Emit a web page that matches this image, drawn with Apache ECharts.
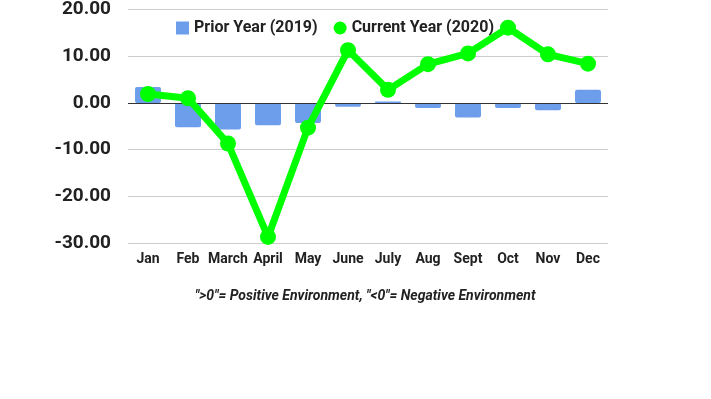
<!DOCTYPE html>
<html>
<head>
<meta charset="utf-8">
<script src="https://cdn.jsdelivr.net/npm/echarts@6/dist/echarts.min.js"></script>
<style>
  html, body { margin: 0; padding: 0; background: #fff; }
  #chart { width: 711px; height: 399px; }
</style>
</head>
<body>
<div id="chart"></div>
<script>
// months along the x axis
const months = ['Jan', 'Feb', 'March', 'April', 'May', 'June', 'July', 'Aug', 'Sept', 'Oct', 'Nov', 'Dec']
const priorYear = [3.4, -5.2, -5.7, -4.8, -4.3, -0.8, 0.3, -1.1, -3.1, -1.1, -1.6, 2.8]
const currentYear = [1.9, 1.0, -8.7, -28.7, -5.3, 11.3, 2.8, 8.3, 10.6, 16.1, 10.4, 8.4]
const yTicks = { min: -30, max: 20, step: 10 }
const note = '">0"= Positive Environment, "<0"= Negative Environment'

const font = 'Roboto'
const ink = '#222'

let chart = echarts.init(document.getElementById('chart'))
chart.setOption({
  animation: false,
  textStyle: { fontFamily: font },
  grid: { left: 128, right: 103, top: 8, bottom: 156 },
  legend: {
    top: 15,
    left: 171,
    itemWidth: 13,
    itemHeight: 13,
    itemGap: 16,
    textStyle: { fontFamily: font, fontSize: 16, fontWeight: 'bold', color: ink },
    data: [
      { name: 'Prior Year (2019)', icon: 'rect' },
      { name: 'Current Year (2020)', icon: 'circle' },
    ],
  },
  xAxis: {
    type: 'category',
    data: months,
    axisLine: { show: false, onZero: false },
    axisTick: { show: false },
    axisLabel: { interval: 0, fontFamily: font, fontSize: 14, fontWeight: 'bold', color: ink, margin: 9 },
  },
  yAxis: {
    type: 'value',
    min: yTicks.min,
    max: yTicks.max,
    interval: yTicks.step,
    axisLine: { show: false },
    axisTick: { show: false },
    axisLabel: {
      fontFamily: font, fontSize: 19, fontWeight: 'bold', color: ink, margin: 17,
      formatter: v => v.toFixed(2),
    },
    splitLine: { lineStyle: { color: '#cccccc' } },
  },
  series: [
    {
      name: 'Prior Year (2019)',
      type: 'bar',
      data: priorYear,
      barWidth: 26,
      itemStyle: { color: '#6d9eeb', borderRadius: 2 },
      markLine: {
        silent: true,
        symbol: 'none',
        label: { show: false },
        lineStyle: { color: '#333', type: 'solid', width: 1 },
        data: [{ yAxis: 0 }],
      },
    },
    {
      name: 'Current Year (2020)',
      type: 'line',
      data: currentYear,
      symbol: 'circle',
      symbolSize: 16,
      lineStyle: { color: '#00ff00', width: 7 },
      itemStyle: { color: '#00ff00' },
      z: 5,
    },
  ],
  graphic: [
    {
      type: 'text',
      left: 195,
      top: 289,
      style: {
        text: note,
        fontFamily: font,
        fontSize: 14,
        fontWeight: 'bold',
        fontStyle: 'italic',
        fill: ink,
      },
    },
  ],
})
</script>
</body>
</html>
